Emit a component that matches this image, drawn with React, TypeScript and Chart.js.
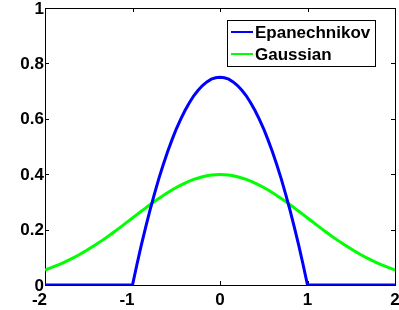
import React, { useEffect, useRef } from "react";
import { Chart, registerables } from "chart.js";

Chart.register(...registerables);

const epaX = [
  -2, -1.5, -1, -0.95, -0.9, -0.85, -0.8, -0.75, -0.7, -0.65, -0.6, -0.55, -0.5, -0.45, -0.4, -0.35, -0.3, -0.25, -0.2,
  -0.15, -0.1, -0.05, 0, 0.05, 0.1, 0.15, 0.2, 0.25, 0.3, 0.35, 0.4, 0.45, 0.5, 0.55, 0.6, 0.65, 0.7, 0.75, 0.8, 0.85,
  0.9, 0.95, 1, 1.5, 2,
];
const epanechnikov = [
  0, 0, 0, 0.073, 0.143, 0.208, 0.27, 0.328, 0.383, 0.433, 0.48, 0.523, 0.563, 0.598, 0.63, 0.658, 0.683, 0.703, 0.72,
  0.733, 0.743, 0.748, 0.75, 0.748, 0.743, 0.733, 0.72, 0.703, 0.683, 0.658, 0.63, 0.598, 0.563, 0.523, 0.48, 0.433,
  0.383, 0.328, 0.27, 0.208, 0.143, 0.073, 0, 0, 0,
];
const gaussX = [
  -2, -1.9, -1.8, -1.7, -1.6, -1.5, -1.4, -1.3, -1.2, -1.1, -1, -0.9, -0.8, -0.7, -0.6, -0.5, -0.4, -0.3, -0.2, -0.1,
  0, 0.1, 0.2, 0.3, 0.4, 0.5, 0.6, 0.7, 0.8, 0.9, 1, 1.1, 1.2, 1.3, 1.4, 1.5, 1.6, 1.7, 1.8, 1.9, 2,
];
const gaussian = [
  0.054, 0.066, 0.079, 0.094, 0.111, 0.13, 0.15, 0.171, 0.194, 0.218, 0.242, 0.266, 0.29, 0.312, 0.333, 0.352, 0.368,
  0.381, 0.391, 0.397, 0.399, 0.397, 0.391, 0.381, 0.368, 0.352, 0.333, 0.312, 0.29, 0.266, 0.242, 0.218, 0.194,
  0.171, 0.15, 0.13, 0.111, 0.094, 0.079, 0.066, 0.054,
];
const seriesNames = ["Epanechnikov", "Gaussian"];
const seriesColors = ["rgb(0,0,255)", "rgb(0,255,0)"];
const xTickValues = [-2, -1, 0, 1, 2];
const xTickLabels = ["-2", "-1", "0", "1", "2"];
const yTickValues = [0, 0.2, 0.4, 0.6, 0.8, 1];
const yTickLabels = ["0", "0.2", "0.4", "0.6", "0.8", "1"];

const FONT = "bold 17px 'Liberation Sans', Arial, Helvetica, sans-serif";

const framePlugin = {
  id: "frame",
  beforeDatasetsDraw(chart: any) {
    const { ctx, chartArea } = chart;
    const { left, right, top, bottom } = chartArea;
    const xs = chart.scales.x;
    const ys = chart.scales.y;
    ctx.save();
    ctx.strokeStyle = "#000";
    ctx.lineWidth = 1;
    ctx.strokeRect(Math.round(left) + 0.5, Math.round(top) + 0.5, Math.round(right - left), Math.round(bottom - top));
    const tl = 4;
    ctx.beginPath();
    xTickValues.forEach((v) => {
      const px = Math.round(xs.getPixelForValue(v)) + 0.5;
      ctx.moveTo(px, bottom);
      ctx.lineTo(px, bottom - tl);
      ctx.moveTo(px, top);
      ctx.lineTo(px, top + tl);
    });
    yTickValues.forEach((v) => {
      const py = Math.round(ys.getPixelForValue(v)) + 0.5;
      ctx.moveTo(left, py);
      ctx.lineTo(left + tl, py);
      ctx.moveTo(right, py);
      ctx.lineTo(right - tl, py);
    });
    ctx.stroke();
    ctx.restore();
  },
  afterDraw(chart: any) {
    const { ctx, chartArea } = chart;
    const xs = chart.scales.x;
    const ys = chart.scales.y;
    ctx.save();
    ctx.fillStyle = "#000";
    ctx.font = FONT;
    // y labels
    ctx.textAlign = "right";
    ctx.textBaseline = "middle";
    yTickValues.forEach((v, i) => {
      ctx.fillText(yTickLabels[i], chartArea.left - 1, ys.getPixelForValue(v) + 1);
    });
    // x labels
    ctx.textBaseline = "alphabetic";
    xTickValues.forEach((v, i) => {
      const px = xs.getPixelForValue(v);
      const lbl = xTickLabels[i];
      if (v < 0) {
        ctx.textAlign = "right";
        ctx.fillText(lbl, px + 2, chartArea.bottom + 20);
      } else {
        ctx.textAlign = "center";
        ctx.fillText(lbl, px, chartArea.bottom + 20);
      }
    });
    // legend
    const bx = 227.5, by = 20.5, bw = 148, bh = 46;
    ctx.fillStyle = "#fff";
    ctx.fillRect(bx, by, bw, bh);
    ctx.strokeStyle = "#000";
    ctx.lineWidth = 1;
    ctx.strokeRect(bx, by, bw, bh);
    ctx.textAlign = "left";
    ctx.textBaseline = "middle";
    seriesNames.forEach((name, i) => {
      const cy = 32 + i * 22;
      ctx.strokeStyle = seriesColors[i];
      ctx.lineWidth = 2;
      ctx.beginPath();
      ctx.moveTo(231, cy);
      ctx.lineTo(253, cy);
      ctx.stroke();
      ctx.fillStyle = "#000";
      ctx.fillText(name, 255, cy + 1);
    });
    ctx.restore();
  },
};

export default function App() {
  const ref = useRef<HTMLCanvasElement | null>(null);
  useEffect(() => {
    document.body.style.margin = "0";
    const canvas = ref.current;
    if (!canvas) return;
    const chart = new Chart(canvas, {
      type: "line",
      data: {
        datasets: [
          {
            label: seriesNames[0],
            data: epaX.map((x, j) => ({ x, y: epanechnikov[j] })),
            borderColor: seriesColors[0],
            backgroundColor: seriesColors[0],
            borderWidth: 3,
            pointRadius: 0,
            tension: 0,
            fill: false,
          },
          {
            label: seriesNames[1],
            data: gaussX.map((x, j) => ({ x, y: gaussian[j] })),
            borderColor: seriesColors[1],
            backgroundColor: seriesColors[1],
            borderWidth: 3,
            pointRadius: 0,
            cubicInterpolationMode: "monotone" as const,
            fill: false,
          },
        ],
      },
      options: {
        responsive: false,
        animation: false,
        events: [],
        layout: { padding: { top: 8, right: 4, left: 0, bottom: 0 } },
        plugins: { legend: { display: false }, tooltip: { enabled: false } },
        scales: {
          x: {
            type: "linear",
            min: -2,
            max: 2,
            grid: { display: false },
            border: { display: false },
            ticks: { display: false, stepSize: 1 },
            afterFit: (s: any) => {
              s.height = 25;
            },
          },
          y: {
            type: "linear",
            min: 0,
            max: 1,
            grid: { display: false },
            border: { display: false },
            ticks: { display: false, stepSize: 0.2 },
            afterFit: (s: any) => {
              s.width = 45;
            },
          },
        },
      },
      plugins: [framePlugin],
    });
    return () => chart.destroy();
  }, []);
  return (
    <div style={{ width: 399, height: 310, background: "#fff" }}>
      <canvas ref={ref} width={399} height={310} style={{ display: "block" }} />
    </div>
  );
}
